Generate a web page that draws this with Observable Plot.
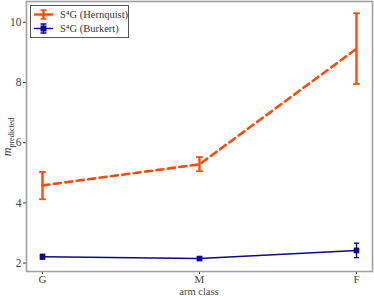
<!DOCTYPE html>
<html><head><meta charset="utf-8">
<script src="https://cdn.jsdelivr.net/npm/d3@7"></script>
<script src="https://cdn.jsdelivr.net/npm/@observablehq/plot@0.6"></script>
<style>body{margin:0;background:#fff}#c{position:relative;width:374px;height:296px}
svg text{font-family:"Liberation Serif","DejaVu Serif","Times New Roman",serif}</style>
</head><body><div id="c"></div>
<script>
const categories = ["G", "M", "F"];
const hernquistValues = [4.58, 5.28, 9.12];
const hernquistLow = [4.12, 5.05, 7.95];
const hernquistHigh = [5.03, 5.52, 10.3];
const burkertValues = [2.21, 2.15, 2.42];
const burkertLow = [2.13, 2.10, 2.18];
const burkertHigh = [2.29, 2.20, 2.66];
const yTicks = [2, 4, 6, 8, 10];
const seriesNames = ["S\u2074G (Hernquist)", "S\u2074G (Burkert)"];

const H = categories.map((c, i) => ({c, v: hernquistValues[i], lo: hernquistLow[i], hi: hernquistHigh[i]}));
const B = categories.map((c, i) => ({c, v: burkertValues[i], lo: burkertLow[i], hi: burkertHigh[i]}));

const orange = "#ff4a0a", navy = "#0a0a8a";
const cap = {draw(ctx, size){ const r = Math.sqrt(size / Math.PI); ctx.moveTo(-r, 0); ctx.lineTo(r, 0); }};

const chart = Plot.plot({
  width: 374, height: 296,
  marginLeft: 26, marginRight: 2, marginTop: 1, marginBottom: 25,
  style: {fontSize: "11.5px", color: "#333"},
  x: {type: "point", domain: categories, padding: 0.095, label: null, tickSize: 3, tickPadding: 1},
  y: {domain: [1.72, 10.69], ticks: yTicks, label: null, tickSize: 3, tickPadding: 2},
  marks: [
    Plot.line(B, {x: "c", y: "v", stroke: navy, strokeWidth: 1.4}),
    Plot.ruleX(B, {x: "c", y1: "lo", y2: "hi", stroke: navy, strokeWidth: 1.4}),
    Plot.dot(B, {x: "c", y: "lo", symbol: cap, r: 2.6, stroke: navy, strokeWidth: 1.3}),
    Plot.dot(B, {x: "c", y: "hi", symbol: cap, r: 2.6, stroke: navy, strokeWidth: 1.3}),
    Plot.dot(B, {x: "c", y: "v", symbol: "square", r: 3.2, fill: navy, stroke: "none"}),
    Plot.line(H, {x: "c", y: "v", stroke: orange, strokeWidth: 2.6, strokeDasharray: "7,4.5"}),
    Plot.ruleX(H, {x: "c", y1: "lo", y2: "hi", stroke: orange, strokeWidth: 2.4}),
    Plot.dot(H, {x: "c", y: "lo", symbol: cap, r: 3.4, stroke: orange, strokeWidth: 1.8}),
    Plot.dot(H, {x: "c", y: "hi", symbol: cap, r: 3.4, stroke: orange, strokeWidth: 1.8}),
    Plot.frame({stroke: "#a0a0a0", strokeWidth: 1.6})
  ]
});
document.getElementById("c").appendChild(chart);

const svg = d3.select(chart);
svg.selectAll("g[aria-label='x-axis tick label'] text, g[aria-label='y-axis tick label'] text").attr("fill", "#444");
svg.selectAll("g[aria-label='x-axis tick label'] text").attr("font-size", 11);
svg.selectAll("g[aria-label='x-axis tick'] path, g[aria-label='y-axis tick'] path").attr("stroke", "#333");

// y label with subscript
const yl = svg.append("text")
  .attr("transform", "translate(11,137) rotate(-90)")
  .attr("text-anchor", "middle")
  .attr("fill", "#333");
yl.append("tspan").attr("font-style", "italic").attr("font-size", 12).text("m");
yl.append("tspan").attr("font-size", 8).attr("dy", 2.5).text("predicted");

// x label
svg.append("text").attr("x", 199).attr("y", 294.5).attr("text-anchor", "middle")
  .attr("font-size", 10.5).attr("fill", "#444").text("arm class");

// legend
const lg = svg.append("g");
lg.append("rect").attr("x", 30.5).attr("y", 5.5).attr("width", 98).attr("height", 32)
  .attr("fill", "#fff").attr("stroke", "#555").attr("stroke-width", 1);
const items = [{name: seriesNames[0], color: orange, w: 2.4, sq: false, y: 14.5}, {name: seriesNames[1], color: navy, w: 1.4, sq: true, y: 28.5}];
items.forEach(it => {
  lg.append("line").attr("x1", 34).attr("x2", 53).attr("y1", it.y).attr("y2", it.y).attr("stroke", it.color).attr("stroke-width", it.w);
  lg.append("line").attr("x1", 43.5).attr("x2", 43.5).attr("y1", it.y - 4.5).attr("y2", it.y + 4.5).attr("stroke", it.color).attr("stroke-width", it.w);
  lg.append("line").attr("x1", 40.5).attr("x2", 46.5).attr("y1", it.y - 4.5).attr("y2", it.y - 4.5).attr("stroke", it.color).attr("stroke-width", 1.5);
  lg.append("line").attr("x1", 40.5).attr("x2", 46.5).attr("y1", it.y + 4.5).attr("y2", it.y + 4.5).attr("stroke", it.color).attr("stroke-width", 1.5);
  if (it.sq) lg.append("rect").attr("x", 40.5).attr("y", it.y - 3).attr("width", 6).attr("height", 6).attr("fill", it.color);
  lg.append("text").attr("x", 60).attr("y", it.y + 3.5).attr("text-anchor", "start")
    .attr("font-size", 10.5).attr("fill", "#333").text(it.name);
});
</script></body></html>
